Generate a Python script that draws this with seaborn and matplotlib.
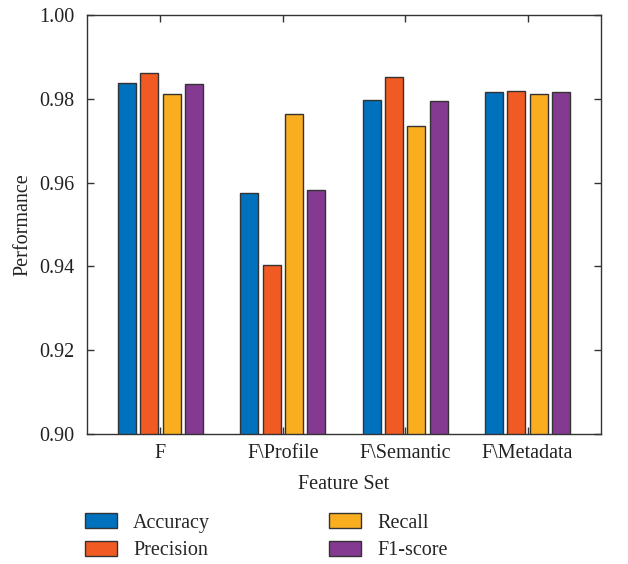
import matplotlib
matplotlib.use("Agg")
import matplotlib.pyplot as plt
import seaborn as sns
import pandas as pd

feature_sets = ["F", "F\\Profile", "F\\Semantic", "F\\Metadata"]
metrics = ["Accuracy", "Precision", "Recall", "F1-score"]
accuracy = [0.9837, 0.9575, 0.9796, 0.9816]
precision = [0.9862, 0.9404, 0.9853, 0.9818]
recall = [0.9812, 0.9764, 0.9735, 0.9812]
f1_score = [0.9836, 0.9582, 0.9794, 0.9815]
colors = ["#0072BD", "#F15A22", "#F9AE20", "#853A91"]

rows = []
for m, vals in zip(metrics, [accuracy, precision, recall, f1_score]):
    for fs, v in zip(feature_sets, vals):
        rows.append({"Feature Set": fs, "Metric": m, "Performance": v})
df = pd.DataFrame(rows)

sns.set_theme(style="white")
plt.rcParams["font.family"] = ["Liberation Serif", "DejaVu Serif"]

FS = 14.5
fig = plt.figure(figsize=(6.28, 5.64), dpi=100)
ax = fig.add_axes([0.1385, 0.2305, 0.8185, 0.743])
sns.barplot(data=df, x="Feature Set", y="Performance", hue="Metric",
            order=feature_sets, hue_order=metrics, palette=colors,
            width=0.73, gap=0.19, edgecolor="#333333", linewidth=1.0,
            saturation=1, ax=ax, legend=True)

ax.set_ylim(0.90, 1.00)
ax.set_xlim(-0.6, 3.6)
ax.set_yticks([0.90, 0.92, 0.94, 0.96, 0.98, 1.00])
ax.set_yticklabels(["0.90", "0.92", "0.94", "0.96", "0.98", "1.00"])
ax.tick_params(axis="both", direction="in", length=5, width=1, color="#333333",
               top=True, right=True, bottom=True, left=True, labelsize=FS,
               labelcolor="#222222")
ax.tick_params(axis="y", pad=9)
ax.tick_params(axis="x", pad=7)
for s in ax.spines.values():
    s.set_visible(True)
    s.set_color("#333333")
    s.set_linewidth(1.0)
ax.set_xlabel("Feature Set", fontsize=FS, color="#222222", labelpad=9)
ax.set_ylabel("Performance", fontsize=FS, color="#222222", labelpad=5)

handles, labels = ax.get_legend_handles_labels()
ax.get_legend().remove()
fig.legend(handles, labels, ncol=2, frameon=False, loc="upper left",
           bbox_to_anchor=(0.135, 1 - 513 / 564), bbox_transform=fig.transFigure,
           fontsize=FS, handlelength=1.6, handleheight=0.8, columnspacing=5.9,
           labelspacing=0.4, handletextpad=0.8, borderpad=0, borderaxespad=0)

fig.savefig("out.png", dpi=100)
